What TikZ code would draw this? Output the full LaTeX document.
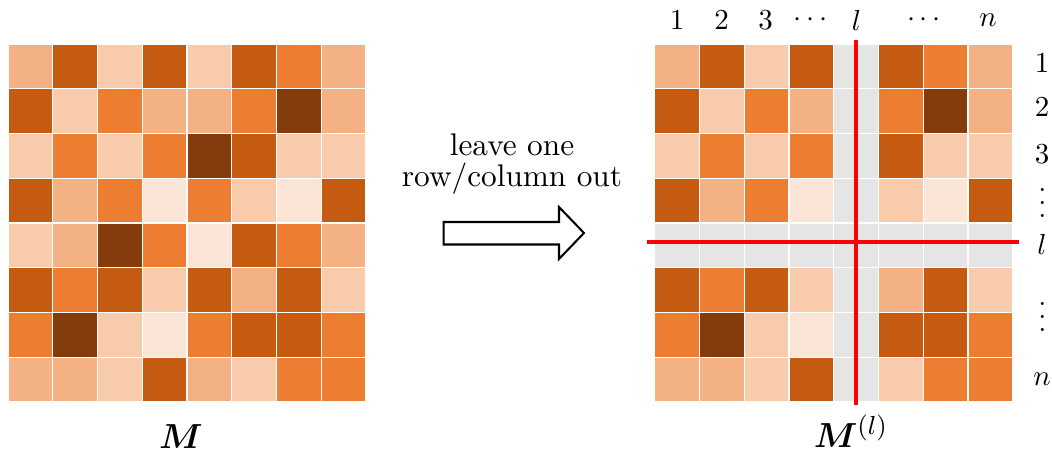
\documentclass[tikz,border=0pt]{standalone}
\usepackage{bm}
\definecolor{c0}{HTML}{FBE5D6}
\definecolor{c1}{HTML}{F8CBAD}
\definecolor{c2}{HTML}{F4B183}
\definecolor{c3}{HTML}{ED7D31}
\definecolor{c4}{HTML}{C55A11}
\definecolor{c5}{HTML}{843C0C}
\definecolor{cg}{HTML}{E5E5E5}
\newcommand\myvdots{\vbox{\baselineskip4.45pt\lineskiplimit0pt\hbox{.}\hbox{.}\hbox{.}}}
\begin{document}
\begin{tikzpicture}[x=0.345pt,y=-0.345pt,
  cellbox/.style={draw=white,line width=0.45pt},
  redline/.style={draw=red,line width=1.15pt},
  lab/.style={inner sep=0pt,font=\fontsize{10}{12}\selectfont},
  biglab/.style={inner sep=0pt,anchor=base,font=\fontsize{12.4}{15}\selectfont},
  arrowtext/.style={inner sep=0pt,align=center,font=\fontsize{10.8}{10.6}\selectfont}]
\useasboundingbox (0,0) rectangle (1052,452);
\def\cs{44.75}
% left matrix
\foreach \row [count=\r from 0] in {{2,4,1,4,1,4,3,2},{4,1,3,2,2,3,5,2},{1,3,1,3,5,4,1,1},{4,2,3,0,3,1,0,4},{1,2,5,3,0,4,3,2},{4,3,4,1,4,2,4,1},{3,5,1,0,3,4,4,3},{2,2,1,4,2,1,3,3}}{
  \foreach \v [count=\c from 0] in \row {
    \path[cellbox,fill=c\v] ({8+\c*\cs},{44+\r*\cs}) rectangle ++(\cs,\cs);
  }
}
% right matrix
\foreach \row [count=\r from 0] in {{2,4,1,4,1,4,3,2},{4,1,3,2,2,3,5,2},{1,3,1,3,5,4,1,1},{4,2,3,0,3,1,0,4},{1,2,5,3,0,4,3,2},{4,3,4,1,4,2,4,1},{3,5,1,0,3,4,4,3},{2,2,1,4,2,1,3,3}}{
  \foreach \v [count=\c from 0] in \row {
    \ifnum\r=4 \def\cc{cg}\else\ifnum\c=4 \def\cc{cg}\else\edef\cc{c\v}\fi\fi
    \path[cellbox,fill=\cc] ({654.7+\c*\cs},{44+\r*\cs}) rectangle ++(\cs,\cs);
  }
}
% red lines
\coordinate (vt) at (856,40);
\coordinate (vb) at (856,405);
\coordinate (hl) at (647,242);
\coordinate (hr) at (1019,242);
\draw[redline] (vt) -- (vb);
\draw[redline] (hl) -- (hr);
% top labels
\node[lab] (t1) at (677,20) {$1$};
\node[lab] (t2) at (721.6,20) {$2$};
\node[lab] (t3) at (765.5,20) {$3$};
\node[lab] (t4) at (810.5,20) {$\cdots$};
\node[lab] (tl) at (856.5,20) {$l$};
\node[lab] (t6) at (924,20) {$\cdots$};
\node[lab] (tn) at (988,20) {$n$};
% right labels
\node[lab] (r1) at (1042,63) {$1$};
\node[lab] (r2) at (1042,107.5) {$2$};
\node[lab] (r3) at (1042,154) {$3$};
\node[lab,anchor=base] (r4) at (1042.5,217.5) {\myvdots};
\node[lab] (rl) at (1042,244) {$l$};
\node[lab,anchor=base] (r6) at (1042.5,331) {\myvdots};
\node[lab] (rn) at (1042,379.5) {$n$};
% bottom labels
\node[biglab] (ml) at (181,448) {$\bm{M}$};
\node[biglab] (mr) at (851,447) {$\bm{M}^{(l)}$};
% arrow
\node[arrowtext] (txt) at (512,164.4) {leave one\\row/column out};
\draw[line width=0.7pt,line join=miter] (443.7,222) -- (559,222) -- (559,207) -- (584,233) -- (559,259) -- (559,244.5) -- (443.7,244.5) -- cycle;
\end{tikzpicture}
\end{document}
